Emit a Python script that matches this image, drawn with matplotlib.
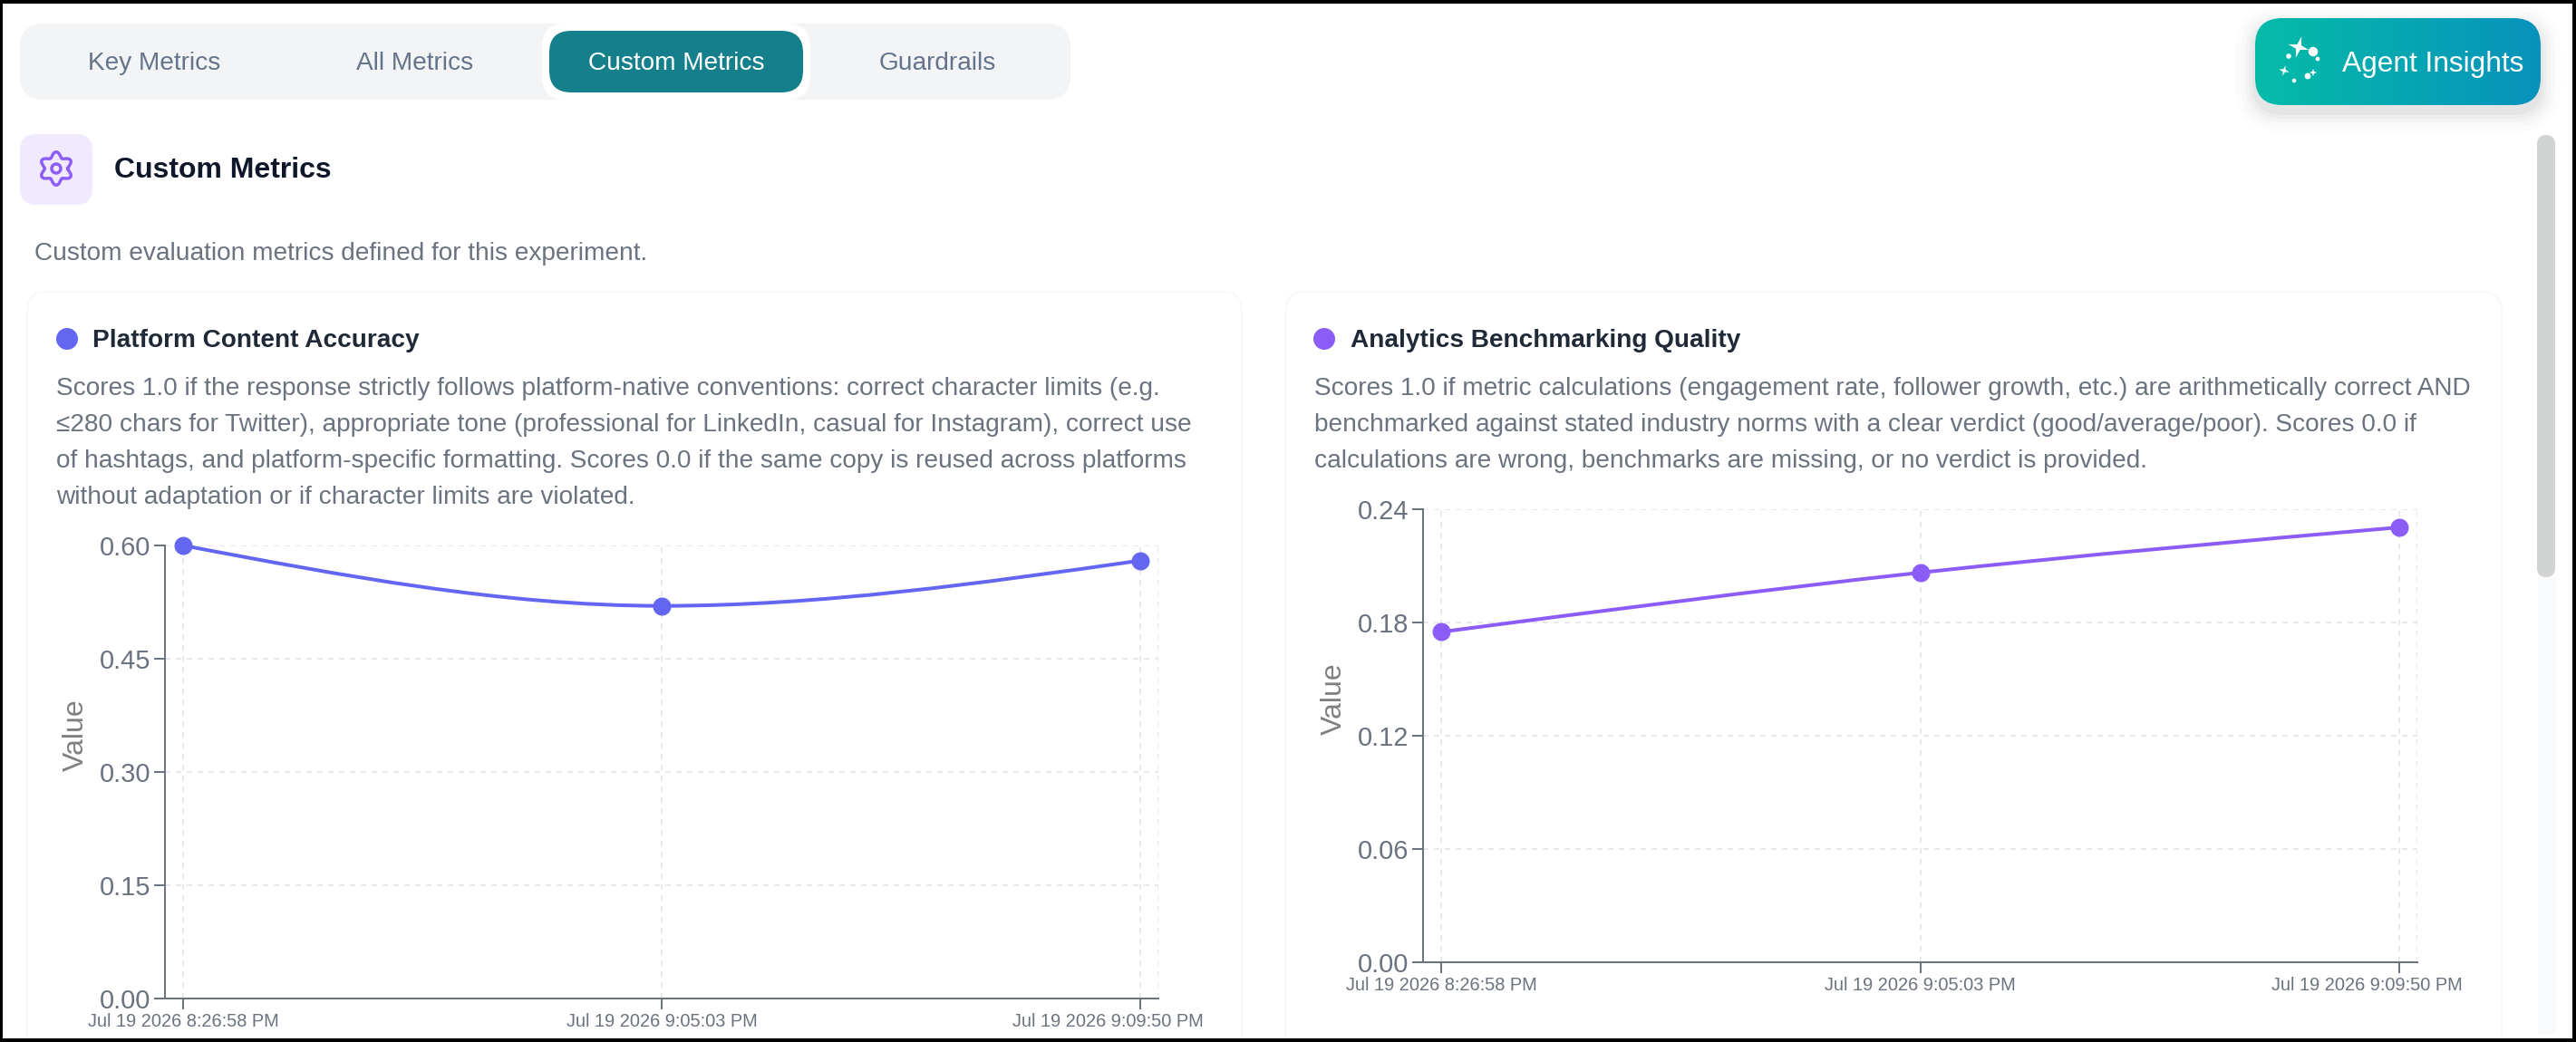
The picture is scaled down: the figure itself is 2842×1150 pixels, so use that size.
"""Recreate the Custom Metrics dashboard screenshot. All layout is in screen pixels."""
import matplotlib
matplotlib.use("Agg")
import matplotlib.pyplot as plt
import numpy as np
from matplotlib.patches import FancyBboxPatch, PathPatch, Polygon, Circle, Rectangle
from matplotlib.path import Path
from matplotlib.transforms import ScaledTranslation

plt.rcParams["font.family"] = ["Liberation Sans", "DejaVu Sans"]
plt.rcParams["lines.scale_dashes"] = False

W, H = 2842, 1150
PT = 0.72  # px -> pt at dpi 100

# data
run_labels = ["Jul 19 2026 8:26:58 PM", "Jul 19 2026 9:05:03 PM", "Jul 19 2026 9:09:50 PM"]
platform_values = [0.60, 0.52, 0.58]
analytics_values = [0.175, 0.2064, 0.2304]
platform_ticks = [0.00, 0.15, 0.30, 0.45, 0.60]
analytics_ticks = [0.00, 0.06, 0.12, 0.18, 0.24]

tab_labels = ["Key Metrics", "All Metrics", "Custom Metrics", "Guardrails"]
platform_desc = [
    "Scores 1.0 if the response strictly follows platform-native conventions: correct character limits (e.g.",
    "≤280 chars for Twitter), appropriate tone (professional for LinkedIn, casual for Instagram), correct use",
    "of hashtags, and platform-specific formatting. Scores 0.0 if the same copy is reused across platforms",
    "without adaptation or if character limits are violated.",
]
analytics_desc = [
    "Scores 1.0 if metric calculations (engagement rate, follower growth, etc.) are arithmetically correct AND",
    "benchmarked against stated industry norms with a clear verdict (good/average/poor). Scores 0.0 if",
    "calculations are wrong, benchmarks are missing, or no verdict is provided.",
]

GREY = "#6b7280"
SLATE = "#64748b"
GRID = "#e5e7eb"
INDIGO = "#6366f1"
VIOLET = "#8b5cf6"


def rrect(ax, x0, y0, x1, y1, r, **kw):
    p = FancyBboxPatch((x0, y0), x1 - x0, y1 - y0, boxstyle=f"round,pad=0,rounding_size={r}", **kw)
    ax.add_patch(p)
    return p


def label(ax, x, y, s, px, color=GREY, weight="normal", ha="left", **kw):
    ax.text(x, y, s, fontsize=px * PT, color=color, fontweight=weight, ha=ha, va="center_baseline", **kw)


def star(ax, cx, cy, r, inner, rot, color="white", zorder=6):
    ang = np.radians(rot) + np.arange(8) * np.pi / 4
    rad = np.where(np.arange(8) % 2 == 0, r, inner)
    ax.add_patch(Polygon(np.c_[cx + rad * np.cos(ang), cy + rad * np.sin(ang)], fc=color, ec="none", zorder=zorder))


def monotone_path(xs, ys):
    """Same curve the web chart draws between its points (monotone cubic)."""
    s = np.diff(ys) / np.diff(xs)
    t = np.zeros(len(xs))
    for i in range(1, len(xs) - 1):
        p = (s[i - 1] + s[i]) / 2
        t[i] = (np.sign(s[i - 1]) + np.sign(s[i])) * min(abs(s[i - 1]), abs(s[i]), 0.5 * abs(p))
    t[0] = (3 * s[0] - t[1]) / 2
    t[-1] = (3 * s[-1] - t[-2]) / 2
    verts, codes = [(xs[0], ys[0])], [Path.MOVETO]
    for i in range(len(xs) - 1):
        h = (xs[i + 1] - xs[i]) / 3
        verts += [(xs[i] + h, ys[i] + h * t[i]), (xs[i + 1] - h, ys[i + 1] - h * t[i + 1]), (xs[i + 1], ys[i + 1])]
        codes += [Path.CURVE4] * 3
    return Path(verts, codes)


def draw_chart(fig, box, tick_px, values, yticks, color, value_xy):
    x0, y0, x1, y1 = box
    ax = fig.add_axes([x0 / W, 1 - y1 / H, (x1 - x0) / W, (y1 - y0) / H], zorder=3)
    ax.patch.set_alpha(0)
    unit = (tick_px[1] - tick_px[0]) / 2
    idx = np.arange(len(values))
    ax.set_xlim(-(tick_px[0] - x0) / unit, 2 + (x1 - tick_px[1]) / unit)
    ax.set_ylim(yticks[0], yticks[-1])
    ax.set_xticks(idx, run_labels)
    ax.set_yticks(yticks, [f"{v:.2f}" for v in yticks])
    dash = (0, (6 * PT, 6 * PT))
    ax.grid(True, color=GRID, lw=1.8 * PT, linestyle=dash, zorder=0)
    ax.set_axisbelow(True)
    ax.axvline(ax.get_xlim()[1], color=GRID, lw=1.8 * PT, linestyle=dash, zorder=0)
    for side in ("top", "right"):
        ax.spines[side].set_visible(False)
    for side in ("left", "bottom"):
        ax.spines[side].set_color(GREY)
        ax.spines[side].set_linewidth(2 * PT)
    ax.tick_params(axis="y", length=12 * PT, width=2 * PT, color=GREY, labelcolor=GREY,
                   labelsize=29 * PT, pad=4 * PT)
    ax.tick_params(axis="x", length=12 * PT, width=2 * PT, color=GREY, labelcolor=GREY,
                   labelsize=20 * PT, pad=4 * PT)
    # the last date label is pushed left to stay inside the chart
    last = ax.get_xticklabels()[-1]
    last.set_transform(last.get_transform() + ScaledTranslation(-36 / 100, 0, fig.dpi_scale_trans))
    ax.add_patch(PathPatch(monotone_path(idx, np.array(values)), fc="none", ec=color, lw=4 * PT, clip_on=False, zorder=4))
    ax.plot(idx, values, "o", color=color, ms=20 * PT, mew=0, clip_on=False, zorder=5)
    fig.text(value_xy[0] / W, 1 - value_xy[1] / H, "Value", rotation=90, fontsize=32 * PT, color="#808080",
             ha="center", va="center")
    return ax


fig = plt.figure(figsize=(W / 100, H / 100), dpi=100, facecolor="white")
ui = fig.add_axes([0, 0, 1, 1], zorder=1)
ui.set_xlim(0, W)
ui.set_ylim(H, 0)
ui.axis("off")

# tab strip
rrect(ui, 22, 26, 1181, 110, 26, fc="#f3f4f6", ec="none")
rrect(ui, 598, 26, 894, 110, 26, fc="white", ec="none")
rrect(ui, 606, 34, 886, 102, 24, fc="#15808c", ec="none")
for cx, name in zip((170, 458, 746, 1034), tab_labels):
    label(ui, cx, 67, name, 28, color="white" if name == "Custom Metrics" else SLATE, ha="center")

# agent insights button
for grow, a in zip((22, 16, 11, 7, 3), (0.012, 0.016, 0.02, 0.025, 0.03)):
    rrect(ui, 2488 - grow, 20 + 8 - grow, 2803 + grow, 116 + 8 + grow, 30 + grow, fc="black", ec="none", alpha=a)
btn = rrect(ui, 2488, 20, 2803, 116, 30, fc="none", ec="none")
grad = np.linspace(0, 1, 256)[None, :, None]
rgb = np.array([5, 188, 168]) / 255 * (1 - grad) + np.array([8, 146, 188]) / 255 * grad
img = ui.imshow(rgb, extent=(2488, 2803, 116, 20), aspect="auto", zorder=2)
img.set_clip_path(btn)
ui.set_xlim(0, W)
ui.set_ylim(H, 0)
label(ui, 2584, 68, "Agent Insights", 31.6, color="white", zorder=6)
star(ui, 2536, 52, 12, 3.4, 15)
star(ui, 2520, 78, 6, 1.8, 15)
star(ui, 2552, 80, 4.2, 1.5, 0)
for cx, cy, r in ((2552, 57, 5.2), (2525, 62, 2.8), (2557, 65, 2.4), (2531, 89, 2.3), (2546, 84, 3.4)):
    ui.add_patch(Circle((cx, cy), r, fc="white", ec="none", zorder=6))

# section header
rrect(ui, 22, 148, 102, 226, 18, fc="#f1e9fe", ec="none")
th = np.linspace(0, 2 * np.pi, 241)
rad = 15.5 + 2.8 * np.cos(6 * (th - np.pi / 2))
ui.plot(62 + rad * np.cos(th), 186 + rad * np.sin(th), color=VIOLET, lw=3.4 * PT, zorder=4)
ui.add_patch(Circle((62, 186), 5, fc="none", ec=VIOLET, lw=3.4 * PT, zorder=4))
label(ui, 126, 185, "Custom Metrics", 32, color="#0f172a", weight="bold")
label(ui, 38, 277, "Custom evaluation metrics defined for this experiment.", 28)

# cards
rrect(ui, 30, 322, 1370, 1220, 22, fc="white", ec="#f7f8f9", lw=2 * PT)
rrect(ui, 1418, 322, 2760, 1220, 22, fc="white", ec="#f7f8f9", lw=2 * PT)
ui.add_patch(Circle((74, 374), 12, fc=INDIGO, ec="none"))
ui.add_patch(Circle((1461, 374), 12, fc=VIOLET, ec="none"))
label(ui, 102, 373, "Platform Content Accuracy", 28, color="#1f2937", weight="bold")
label(ui, 1490, 373, "Analytics Benchmarking Quality", 28, color="#1f2937", weight="bold")
for i, line in enumerate(platform_desc):
    label(ui, 62, 426 + 40 * i, line, 28)
for i, line in enumerate(analytics_desc):
    label(ui, 1450, 426 + 40 * i, line, 28)

# scrollbar
ui.add_patch(Rectangle((2800, 637), 20, 505, fc="#f8fafc", ec="none"))
rrect(ui, 2799, 149, 2819, 637, 10, fc="#d2d4d3", ec="none")

draw_chart(fig, (182, 602, 1278, 1102), (202, 1258), platform_values, platform_ticks, INDIGO, (84, 811))
draw_chart(fig, (1570, 562, 2667, 1062), (1590, 2647), analytics_values, analytics_ticks, VIOLET, (1472, 771))

# screenshot border
for x, y, w, h in ((0, 0, W, 4), (0, 1146, W, 4), (0, 0, 3, H), (2838, 0, 4, H)):
    fig.add_artist(Rectangle((x / W, 1 - (y + h) / H), w / W, h / H, transform=fig.transFigure, fc="black", ec="none", zorder=10))

fig.savefig("out.png", dpi=100)
